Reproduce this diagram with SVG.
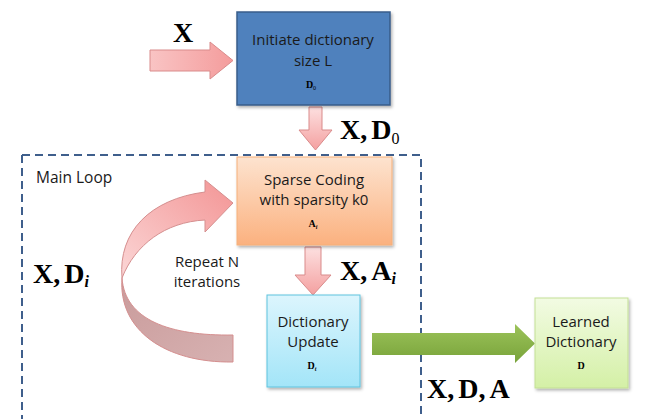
<svg xmlns="http://www.w3.org/2000/svg" width="651" height="419" viewBox="0 0 651 419">
<defs>
<linearGradient id="pinkV" x1="0" y1="0" x2="0" y2="1"><stop offset="0" stop-color="#fde0e0"/><stop offset="1" stop-color="#f4a0a0"/></linearGradient>
<linearGradient id="pinkH" x1="0" y1="0" x2="1" y2="0"><stop offset="0" stop-color="#f9c4c4"/><stop offset="1" stop-color="#f49c9c"/></linearGradient>
<linearGradient id="curveTop" x1="0" y1="1" x2="1" y2="0"><stop offset="0" stop-color="#fbd6d6"/><stop offset="1" stop-color="#f39595"/></linearGradient>
<linearGradient id="curveBot" x1="0" y1="0" x2="1" y2="1"><stop offset="0" stop-color="#c99b9b"/><stop offset="1" stop-color="#d7b1b1"/></linearGradient>
<linearGradient id="orange" x1="0" y1="0" x2="0" y2="1"><stop offset="0" stop-color="#fde3cf"/><stop offset="1" stop-color="#fbb17f"/></linearGradient>
<linearGradient id="cyan" x1="0" y1="0" x2="0" y2="1"><stop offset="0" stop-color="#dcf5fd"/><stop offset="1" stop-color="#a3e5f8"/></linearGradient>
<linearGradient id="lgreen" x1="0" y1="0" x2="0" y2="1"><stop offset="0" stop-color="#f2fbe3"/><stop offset="1" stop-color="#d4f0a6"/></linearGradient>
<linearGradient id="green" x1="0" y1="0" x2="0" y2="1"><stop offset="0" stop-color="#9cc35a"/><stop offset="1" stop-color="#78a33a"/></linearGradient>
<filter id="sh" x="-10%" y="-10%" width="130%" height="130%"><feDropShadow dx="1.5" dy="2" stdDeviation="1.5" flood-color="#000" flood-opacity="0.3"/></filter>
</defs>
<style>
.lbl{font-family:"Open Sans","Liberation Sans",sans-serif;font-size:15px;fill:#1a1a1a;text-anchor:middle}
.math{font-family:"Liberation Serif","Times New Roman",serif;font-size:28px;font-weight:bold;fill:#000}
.sm{font-family:"Liberation Serif","Times New Roman",serif;font-size:10px;font-weight:bold;fill:#000;text-anchor:middle}
.sub{font-weight:normal;font-size:16px}
.subi{font-weight:bold;font-style:italic;font-size:16px}
.parr{fill:url(#pinkV);stroke:#d98b8b;stroke-width:1}
</style>
<rect width="651" height="419" fill="#fff"/>
<g id="main-loop">
<path d="M22,155 H421 V419 M22,155 V419" fill="none" stroke="#3f5f8c" stroke-width="2" stroke-dasharray="8,5"/>
<text x="36" y="183" font-family="Open Sans, Liberation Sans, sans-serif" font-size="15.5" fill="#1a1a1a">Main Loop</text>
</g>
<g id="connectors">
<path id="arrow-x" d="M150,50 H210 V42 L233,60.5 L210,79 V71 H150 Z" fill="url(#pinkH)" stroke="#d98b8b" stroke-width="1"/>
<path id="arrow-d0" class="parr" d="M309,107 H322 V130 H332 L315.5,150 L299,130 H309 Z"/>
<path id="arrow-ai" class="parr" d="M305,247 H321 V275 H331 L313,295 L295,275 H305 Z"/>
<path id="arrow-final" d="M372,333 H515 V324 L535,343.5 L515,363 V355 H372 Z" fill="url(#green)"/>
<g id="loop-arrow" stroke="#d58f8f" stroke-width="1">
<path d="M122,278 C125,320 170,336 233,335 L233,362 C165,363 118,330 122,278 Z" fill="url(#curveBot)"/>
<path d="M122,278 C118,232 150,199 205,192 L205,180 L233,203 L205,232 L205,220 C165,222 135,245 122,278 Z" fill="url(#curveTop)"/>
</g>
<text class="math" x="173" y="42">X</text>
<text class="math" x="340" y="139">X,<tspan dx="4">D</tspan><tspan class="sub" dy="5">0</tspan></text>
<text class="math" x="340" y="280">X,<tspan dx="4">A</tspan><tspan class="subi" dy="4">i</tspan></text>
<text class="math" x="33" y="283">X,<tspan dx="4">D</tspan><tspan class="subi" dy="4">i</tspan></text>
<text class="math" x="427" y="398">X,<tspan dx="4">D,</tspan><tspan dx="4">A</tspan></text>
<text class="lbl" x="207" y="267">Repeat N</text>
<text class="lbl" x="207" y="287">iterations</text>
</g>
<g id="init-node">
<rect x="237" y="12" width="153" height="93" fill="#4f81bd" stroke="#385d8a" stroke-width="1.5" filter="url(#sh)"/>
<text class="lbl" x="313" y="45">Initiate dictionary</text>
<text class="lbl" x="313" y="66">size L</text>
<text class="sm" x="311" y="88">D<tspan font-size="6" font-weight="normal" dy="2">0</tspan></text>
</g>
<g id="sparse-node">
<rect x="237" y="157" width="155" height="88" fill="url(#orange)" stroke="#f5b07a" stroke-width="1" filter="url(#sh)"/>
<text class="lbl" x="314" y="185">Sparse Coding</text>
<text class="lbl" x="314" y="205">with sparsity k0</text>
<text class="sm" x="313" y="227">A<tspan font-size="6" font-style="italic" dy="2">i</tspan></text>
</g>
<g id="update-node">
<rect x="267" y="295" width="93" height="92" fill="url(#cyan)" stroke="#5fc3de" stroke-width="1" filter="url(#sh)"/>
<text class="lbl" x="313" y="327">Dictionary</text>
<text class="lbl" x="313" y="347">Update</text>
<text class="sm" x="312" y="369">D<tspan font-size="6" font-style="italic" dy="2">t</tspan></text>
</g>
<g id="learned-node">
<rect x="535" y="298" width="93" height="90" fill="url(#lgreen)" stroke="#c3df95" stroke-width="1" filter="url(#sh)"/>
<text class="lbl" x="581" y="327">Learned</text>
<text class="lbl" x="581" y="347">Dictionary</text>
<text class="sm" x="581" y="369">D</text>
</g>
</svg>
